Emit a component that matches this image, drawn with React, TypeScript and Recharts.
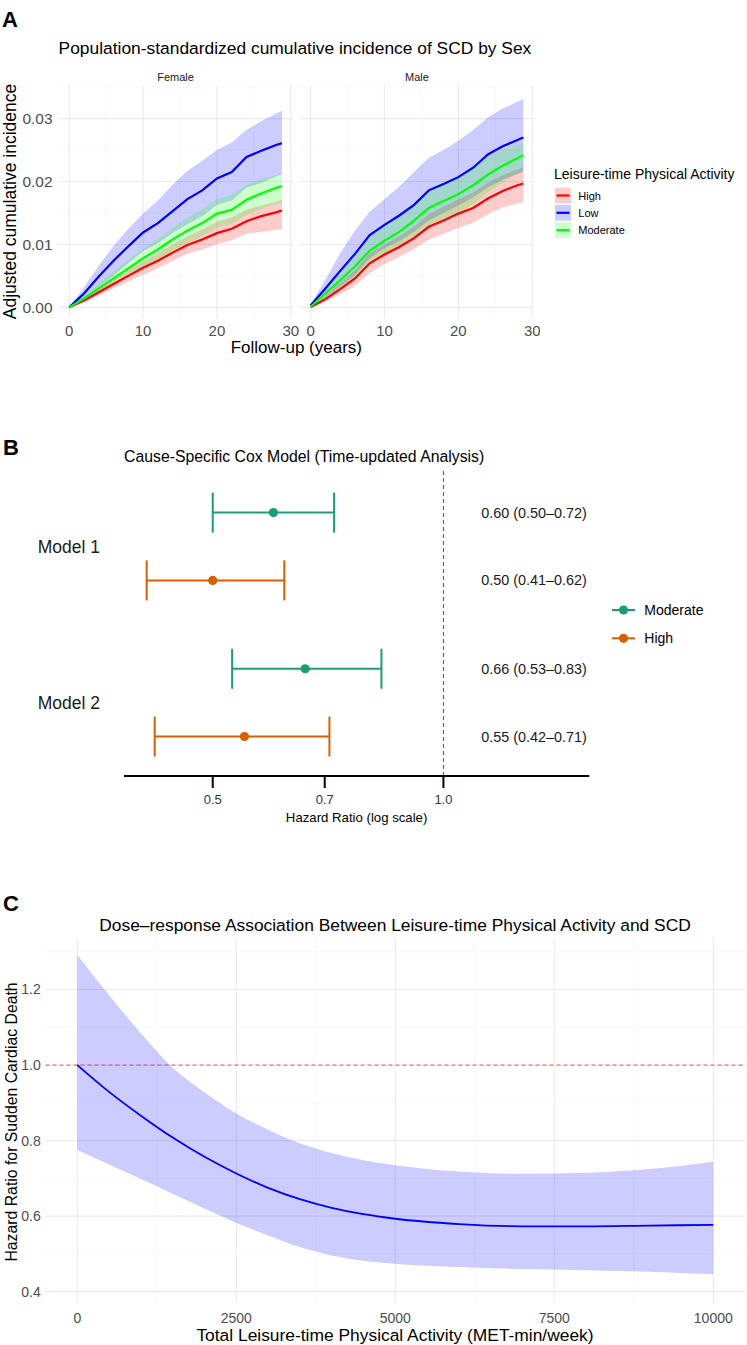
import React from "react";
import {
  ComposedChart,
  ScatterChart,
  Area,
  Line,
  Scatter,
  ErrorBar,
  XAxis,
  YAxis,
  CartesianGrid,
  ReferenceLine,
} from "recharts";

const FONT = '"Liberation Sans", Arial, Helvetica, sans-serif';

// ---------- Panel A: cumulative incidence by sex ----------
const YEARS = [0, 2, 4, 6, 8, 10, 12, 14, 16, 18, 20, 22, 24, 26, 28, 28.8];

const FEMALE_HIGH = [0, 0.0011, 0.0024, 0.0037, 0.005, 0.0063, 0.0074, 0.0087, 0.0099, 0.0108, 0.0118, 0.0125, 0.0137, 0.0145, 0.0151, 0.0154];
const FEMALE_HIGH_LOWER = [0, 0.0008, 0.0019, 0.003, 0.0041, 0.0052, 0.0062, 0.0074, 0.0085, 0.0092, 0.01, 0.0107, 0.0117, 0.012, 0.0123, 0.0124];
const FEMALE_HIGH_UPPER = [0, 0.0014, 0.0029, 0.0044, 0.0059, 0.0073, 0.0086, 0.01, 0.0113, 0.0124, 0.0136, 0.0143, 0.0155, 0.0162, 0.0168, 0.0171];
const FEMALE_LOW = [0, 0.0022, 0.0049, 0.0074, 0.0097, 0.0119, 0.0134, 0.0153, 0.0172, 0.0186, 0.0205, 0.0215, 0.0239, 0.0249, 0.0258, 0.0261];
const FEMALE_LOW_LOWER = [0, 0.0014, 0.0032, 0.005, 0.007, 0.0089, 0.0102, 0.0118, 0.0132, 0.0145, 0.0163, 0.017, 0.019, 0.0198, 0.0208, 0.0212];
const FEMALE_LOW_UPPER = [0, 0.0032, 0.0066, 0.0098, 0.0125, 0.0149, 0.017, 0.0195, 0.0217, 0.0233, 0.025, 0.0262, 0.0282, 0.0296, 0.0308, 0.0312];
const FEMALE_MOD = [0, 0.0014, 0.003, 0.0046, 0.0062, 0.0078, 0.0092, 0.0108, 0.0122, 0.0134, 0.0149, 0.0155, 0.0171, 0.0181, 0.019, 0.0193];
const FEMALE_MOD_LOWER = [0, 0.001, 0.0023, 0.0036, 0.005, 0.0064, 0.0076, 0.009, 0.0102, 0.0113, 0.0127, 0.0132, 0.0147, 0.0157, 0.0164, 0.0166];
const FEMALE_MOD_UPPER = [0, 0.0019, 0.0038, 0.0057, 0.0076, 0.0093, 0.0109, 0.0127, 0.0143, 0.0156, 0.0172, 0.0179, 0.0195, 0.0204, 0.021, 0.0213];

const MALE_HIGH = [0, 0.0013, 0.0029, 0.0046, 0.007, 0.0084, 0.0096, 0.011, 0.0128, 0.0138, 0.0149, 0.0158, 0.0173, 0.0185, 0.0194, 0.0197];
const MALE_HIGH_LOWER = [0, 0.0009, 0.0021, 0.0034, 0.0055, 0.0069, 0.008, 0.0093, 0.0108, 0.0117, 0.0126, 0.0135, 0.0148, 0.0159, 0.0165, 0.0167];
const MALE_HIGH_UPPER = [0, 0.0018, 0.0038, 0.0059, 0.0086, 0.01, 0.0113, 0.0128, 0.0148, 0.016, 0.0172, 0.0182, 0.0198, 0.021, 0.0219, 0.0223];
const MALE_LOW = [0.0003, 0.003, 0.0058, 0.0085, 0.0115, 0.0131, 0.0146, 0.0163, 0.0186, 0.0196, 0.0207, 0.0222, 0.0243, 0.0256, 0.0266, 0.027];
const MALE_LOW_LOWER = [0.0001, 0.0016, 0.0033, 0.0052, 0.0078, 0.0094, 0.0105, 0.012, 0.0138, 0.015, 0.0162, 0.0175, 0.0191, 0.0203, 0.0212, 0.0215];
const MALE_LOW_UPPER = [0.0005, 0.0044, 0.0086, 0.0122, 0.0152, 0.0172, 0.0192, 0.0215, 0.0238, 0.025, 0.0265, 0.0282, 0.0302, 0.0316, 0.0327, 0.0331];
const MALE_MOD = [0.0001, 0.0022, 0.0043, 0.0065, 0.009, 0.0106, 0.012, 0.0138, 0.0158, 0.0169, 0.018, 0.0194, 0.0211, 0.0225, 0.0237, 0.0242];
const MALE_MOD_LOWER = [0, 0.0015, 0.0031, 0.0048, 0.0069, 0.0084, 0.0096, 0.0111, 0.0129, 0.014, 0.015, 0.0164, 0.0183, 0.0198, 0.0213, 0.0217];
const MALE_MOD_UPPER = [0.0002, 0.0029, 0.0056, 0.0083, 0.0112, 0.013, 0.0146, 0.0166, 0.0188, 0.0199, 0.021, 0.0224, 0.024, 0.0251, 0.0259, 0.0262];

const GROUPS = ["High", "Low", "Moderate"];
const GROUP_COLORS = ["#FF0000", "#0000FF", "#00FF00"];

// ---------- Panel B: cause-specific Cox model ----------
const MODELS = ["Model 1", "Model 1", "Model 2", "Model 2"];
const LEVELS = ["Moderate", "High", "Moderate", "High"];
const HR = [0.6, 0.5, 0.66, 0.55];
const HR_LOWER = [0.5, 0.41, 0.53, 0.42];
const HR_UPPER = [0.72, 0.62, 0.83, 0.71];
const MODEL_ORDER = ["Model 1", "Model 2"];
const LEVEL_ORDER = ["Moderate", "High"];
const LEVEL_COLORS = ["#1B9E77", "#D95F02"];

// ---------- Panel C: dose-response spline ----------
const DOSE = [0, 500, 1000, 1500, 2000, 2500, 3000, 3500, 4000, 4500, 5000, 6000, 7000, 8000, 9000, 10000];
const DOSE_HR = [1.0, 0.929, 0.866, 0.808, 0.757, 0.713, 0.675, 0.645, 0.622, 0.605, 0.593, 0.579, 0.573, 0.573, 0.575, 0.577];
const DOSE_LOWER = [0.775, 0.737, 0.698, 0.659, 0.62, 0.582, 0.549, 0.518, 0.496, 0.482, 0.474, 0.465, 0.46, 0.457, 0.453, 0.446];
const DOSE_UPPER = [1.291, 1.185, 1.084, 0.993, 0.928, 0.872, 0.829, 0.793, 0.767, 0.748, 0.735, 0.718, 0.712, 0.715, 0.725, 0.744];

function buildFacet(series: number[][][]) {
  return YEARS.map((t, i) => {
    const row: any = { t };
    series.forEach(([est, lo, hi], g) => {
      row[`est${g}`] = est[i];
      row[`band${g}`] = [lo[i], hi[i]];
    });
    return row;
  });
}

const femaleRows = buildFacet([
  [FEMALE_HIGH, FEMALE_HIGH_LOWER, FEMALE_HIGH_UPPER],
  [FEMALE_LOW, FEMALE_LOW_LOWER, FEMALE_LOW_UPPER],
  [FEMALE_MOD, FEMALE_MOD_LOWER, FEMALE_MOD_UPPER],
]);
const maleRows = buildFacet([
  [MALE_HIGH, MALE_HIGH_LOWER, MALE_HIGH_UPPER],
  [MALE_LOW, MALE_LOW_LOWER, MALE_LOW_UPPER],
  [MALE_MOD, MALE_MOD_LOWER, MALE_MOD_UPPER],
]);

const DODGE = 0.217;
const coxRows = HR.map((hr, i) => {
  const pos =
    MODEL_ORDER.length - MODEL_ORDER.indexOf(MODELS[i]) +
    (LEVELS[i] === "Moderate" ? DODGE : -DODGE);
  return {
    level: LEVELS[i],
    hr,
    pos,
    err: [hr - HR_LOWER[i], HR_UPPER[i] - hr],
    text: `${hr.toFixed(2)} (${HR_LOWER[i].toFixed(2)}–${HR_UPPER[i].toFixed(2)})`,
  };
});
const LABEL_X = 1.12;
const labelRows = coxRows.map((r) => ({ hr: LABEL_X, pos: r.pos, text: r.text }));

const doseRows = DOSE.map((d, i) => ({
  dose: d,
  hr: DOSE_HR[i],
  band: [DOSE_LOWER[i], DOSE_UPPER[i]],
}));

const tickStyle = (size: number, fill = "#4D4D4D") => ({
  fontSize: size,
  fill,
  fontFamily: FONT,
});

function IncidenceFacet({
  rows,
  left,
  width,
  marginLeft,
  marginRight,
  showY,
}: {
  rows: any[];
  left: number;
  width: number;
  marginLeft: number;
  marginRight: number;
  showY: boolean;
}) {
  return (
    <div style={{ position: "absolute", left, top: 0 }}>
      <ComposedChart
        width={width}
        height={345}
        data={rows}
        margin={{ top: 85, right: marginRight, bottom: 0, left: marginLeft }}
      >
        <CartesianGrid
          stroke="#F3F3F3"
          strokeWidth={0.6}
          horizontalValues={[0.005, 0.015, 0.025, 0.035]}
          verticalValues={[5, 15, 25]}
        />
        <CartesianGrid
          stroke="#EBEBEB"
          strokeWidth={1.1}
          horizontalValues={[0, 0.01, 0.02, 0.03]}
          verticalValues={[0, 10, 20, 30]}
        />
        <XAxis
          dataKey="t"
          type="number"
          domain={[-1.44, 30.24]}
          allowDataOverflow
          ticks={[0, 10, 20, 30]}
          axisLine={false}
          tickLine={false}
          tickSize={0}
          tickMargin={7}
          height={27.1}
          tick={tickStyle(15)}
        />
        <YAxis
          type="number"
          domain={[-0.00168, 0.03535]}
          allowDataOverflow
          ticks={[0, 0.01, 0.02, 0.03]}
          tickFormatter={(v: number) => v.toFixed(2)}
          hide={!showY}
          width={58.6}
          axisLine={false}
          tickLine={false}
          tickSize={0}
          tickMargin={6}
          tick={tickStyle(15.5)}
        />
        {GROUPS.map((g, i) => (
          <Area
            key={`band-${g}`}
            dataKey={`band${i}`}
            type="linear"
            stroke="none"
            fill={GROUP_COLORS[i]}
            fillOpacity={0.2}
            isAnimationActive={false}
          />
        ))}
        {GROUPS.map((g, i) => (
          <Line
            key={`line-${g}`}
            dataKey={`est${i}`}
            type="linear"
            stroke={GROUP_COLORS[i]}
            strokeWidth={2.2}
            dot={false}
            isAnimationActive={false}
          />
        ))}
      </ComposedChart>
    </div>
  );
}

function CoxPanel() {
  return (
    <div style={{ position: "absolute", left: 0, top: 460 }}>
      <ScatterChart
        width={600}
        height={380}
        margin={{ top: 10, right: 10.7, bottom: 0, left: 0 }}
      >
        <XAxis
          dataKey="hr"
          type="number"
          scale="log"
          domain={[0.383, 1.55]}
          allowDataOverflow
          ticks={[0.5, 0.7, 1.0]}
          tickFormatter={(v: number) => v.toFixed(1)}
          axisLine={{ stroke: "#000", strokeWidth: 2 }}
          tickLine={{ stroke: "#000", strokeWidth: 2 }}
          tickSize={12}
          tickMargin={7}
          height={64}
          tick={tickStyle(13, "#333")}
        />
        <YAxis
          dataKey="pos"
          type="number"
          domain={[0.53, 2.49]}
          allowDataOverflow
          ticks={[1, 2]}
          tickFormatter={(v: number) => MODEL_ORDER[MODEL_ORDER.length - v]}
          width={124}
          axisLine={false}
          tickLine={false}
          tickSize={0}
          tickMargin={24}
          tick={tickStyle(17.5, "#1A1A1A")}
        />
        <ReferenceLine x={1} stroke="#555" strokeWidth={1} strokeDasharray="4 3" />
        {LEVEL_ORDER.map((lv, i) => (
          <Scatter
            key={lv}
            data={coxRows.filter((r) => r.level === lv)}
            fill={LEVEL_COLORS[i]}
            isAnimationActive={false}
            shape={(p: any) => (
              <circle cx={p.cx} cy={p.cy} r={4.6} fill={LEVEL_COLORS[i]} />
            )}
          >
            <ErrorBar
              dataKey="err"
              direction="x"
              width={20}
              stroke={LEVEL_COLORS[i]}
              strokeWidth={2}
              isAnimationActive={false}
            />
          </Scatter>
        ))}
        <Scatter
          data={labelRows}
          isAnimationActive={false}
          shape={(p: any) => (
            <text
              x={p.cx}
              y={p.cy}
              dominantBaseline="central"
              fontSize={14.4}
              fill="#1A1A1A"
              fontFamily={FONT}
            >
              {p.payload.text}
            </text>
          )}
        />
      </ScatterChart>
    </div>
  );
}

function DosePanel() {
  return (
    <div style={{ position: "absolute", left: 0, top: 930 }}>
      <ComposedChart
        width={747}
        height={415}
        data={doseRows}
        margin={{ top: 8.5, right: 1.9, bottom: 0, left: 0 }}
      >
        <CartesianGrid
          stroke="#F3F3F3"
          strokeWidth={0.6}
          horizontalValues={[0.5, 0.7, 0.9, 1.1, 1.3]}
          verticalValues={[1250, 3750, 6250, 8750]}
        />
        <CartesianGrid
          stroke="#EBEBEB"
          strokeWidth={1.1}
          horizontalValues={[0.4, 0.6, 0.8, 1.0, 1.2]}
          verticalValues={[0, 2500, 5000, 7500, 10000]}
        />
        <XAxis
          dataKey="dose"
          type="number"
          domain={[-500, 10500]}
          allowDataOverflow
          ticks={[0, 2500, 5000, 7500, 10000]}
          axisLine={false}
          tickLine={false}
          tickSize={0}
          tickMargin={10.3}
          height={42}
          tick={tickStyle(14)}
        />
        <YAxis
          type="number"
          domain={[0.37, 1.335]}
          allowDataOverflow
          ticks={[0.4, 0.6, 0.8, 1.0, 1.2]}
          tickFormatter={(v: number) => v.toFixed(1)}
          width={45.5}
          axisLine={false}
          tickLine={false}
          tickSize={0}
          tickMargin={4.8}
          tick={tickStyle(14)}
        />
        <Area
          dataKey="band"
          type="monotone"
          stroke="none"
          fill="#0000FF"
          fillOpacity={0.2}
          isAnimationActive={false}
        />
        <ReferenceLine
          y={1}
          stroke="#FF0000"
          strokeOpacity={0.55}
          strokeWidth={1.2}
          strokeDasharray="4 3"
        />
        <Line
          dataKey="hr"
          type="monotone"
          stroke="#0000FF"
          strokeWidth={1.8}
          dot={false}
          isAnimationActive={false}
        />
      </ComposedChart>
    </div>
  );
}

function Txt({
  x,
  y,
  size,
  anchor = "start",
  weight = "normal",
  fill = "#000",
  vertical = false,
  children,
}: {
  x: number;
  y: number;
  size: number;
  anchor?: string;
  weight?: string;
  fill?: string;
  vertical?: boolean;
  children: React.ReactNode;
}) {
  return (
    <text
      x={x}
      y={y}
      fontSize={size}
      fontWeight={weight}
      fill={fill}
      textAnchor={anchor as any}
      dominantBaseline="central"
      fontFamily={FONT}
      transform={vertical ? `rotate(-90 ${x} ${y})` : undefined}
    >
      {children}
    </text>
  );
}

function Annotations() {
  return (
    <svg
      width={747}
      height={1345}
      style={{ position: "absolute", left: 0, top: 0, pointerEvents: "none" }}
    >
      {/* panel A */}
      <Txt x={2} y={19} size={22} weight="bold">A</Txt>
      <Txt x={58.6} y={47.5} size={17.4}>
        Population-standardized cumulative incidence of SCD by Sex
      </Txt>
      <Txt x={175.6} y={76.5} size={11} anchor="middle" fill="#1A1A1A">Female</Txt>
      <Txt x={417} y={76.5} size={11} anchor="middle" fill="#1A1A1A">Male</Txt>
      <Txt x={10} y={201.5} size={17.5} anchor="middle" vertical>
        Adjusted cumulative incidence
      </Txt>
      <Txt x={296.3} y={347} size={17} anchor="middle">Follow-up (years)</Txt>
      <Txt x={554} y={174} size={14}>Leisure-time Physical Activity</Txt>
      {GROUPS.map((g, i) => {
        const cy = 195.5 + i * 17.3;
        return (
          <g key={g}>
            <rect x={555} y={cy - 7.8} width={16} height={15.6} fill={GROUP_COLORS[i]} fillOpacity={0.2} />
            <line x1={556.5} x2={569.5} y1={cy} y2={cy} stroke={GROUP_COLORS[i]} strokeWidth={2.2} />
            <Txt x={578.3} y={cy} size={11}>{g}</Txt>
          </g>
        );
      })}

      {/* panel B */}
      <Txt x={3} y={447} size={22} weight="bold">B</Txt>
      <Txt x={124} y={456} size={15.8}>
        Cause-Specific Cox Model (Time-updated Analysis)
      </Txt>
      <Txt x={356.6} y={817} size={13.2} anchor="middle">Hazard Ratio (log scale)</Txt>
      {LEVEL_ORDER.map((lv, i) => {
        const cy = 610 + i * 28.3;
        return (
          <g key={lv}>
            <line x1={612} x2={635} y1={cy} y2={cy} stroke={LEVEL_COLORS[i]} strokeWidth={2} />
            <circle cx={623.5} cy={cy} r={4.6} fill={LEVEL_COLORS[i]} />
            <Txt x={644.3} y={cy} size={14}>{lv}</Txt>
          </g>
        );
      })}

      {/* panel C */}
      <Txt x={3} y={903} size={22} weight="bold">C</Txt>
      <Txt x={395} y={925} size={17.4} anchor="middle">
        Dose–response Association Between Leisure-time Physical Activity and SCD
      </Txt>
      <Txt x={11.5} y={1122} size={15.8} anchor="middle" vertical>
        Hazard Ratio for Sudden Cardiac Death
      </Txt>
      <Txt x={395} y={1335} size={17.4} anchor="middle">
        Total Leisure-time Physical Activity (MET-min/week)
      </Txt>
    </svg>
  );
}

export default function App() {
  return (
    <div
      style={{
        position: "absolute",
        left: 0,
        top: 0,
        width: 747,
        height: 1345,
        background: "#fff",
        fontFamily: FONT,
      }}
    >
      <IncidenceFacet rows={femaleRows} left={0} width={300} marginLeft={0} marginRight={7.4} showY />
      <IncidenceFacet rows={maleRows} left={295} width={245} marginLeft={5} marginRight={6} showY={false} />
      <CoxPanel />
      <DosePanel />
      <Annotations />
    </div>
  );
}
